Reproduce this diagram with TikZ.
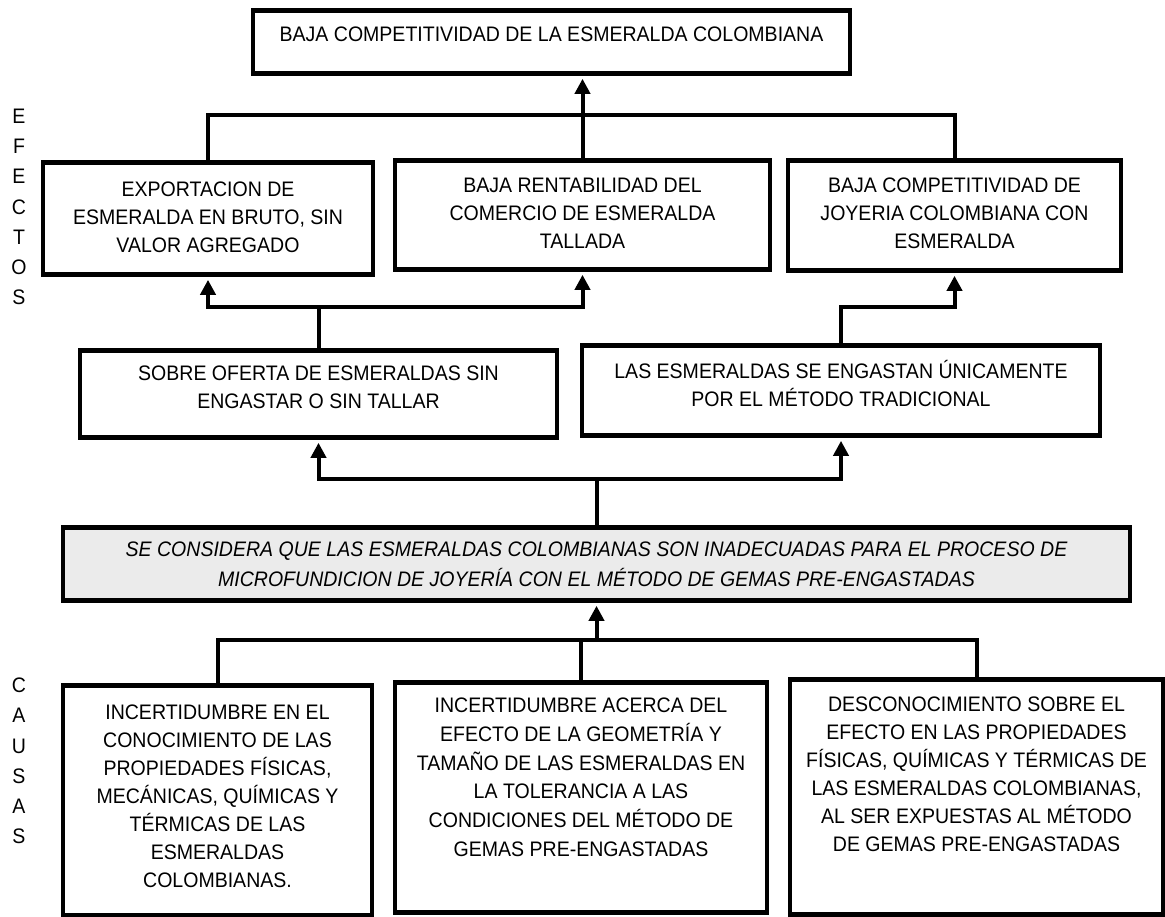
\documentclass[tikz,border=0pt]{standalone}
\usepackage{fontspec}
\setmainfont[FakeStretch=0.93]{Liberation Sans}
\usetikzlibrary{positioning, arrows.meta, calc}

\begin{document}
\begin{tikzpicture}[x=0.5pt, y=-0.5pt,
    box/.style={draw, line width=2.4pt, align=center, inner xsep=0pt, inner ysep=0pt, anchor=north, font=\fontsize{10.5}{14}\selectfont},
    conn/.style={line width=2pt},
    arr/.style={line width=2pt, -{Triangle[length=7.5pt, width=7.5pt]}, shorten >=1.5pt},
    letras/.style={align=center, inner sep=0pt, font=\fontsize{10.5}{15.1}\selectfont}]
    \useasboundingbox (0,0) rectangle (1165,916);

    % Problema central y efectos
    \node[box, minimum width=298.5pt, text height=15.5pt, text depth=16pt] (top) at (551.5,8) {BAJA COMPETITIVIDAD DE LA ESMERALDA COLOMBIANA};
    \node[box, minimum width=165pt, text height=45pt, text depth=11pt] (e1) at (208,160) {EXPORTACION DE\\ESMERALDA EN BRUTO, SIN\\VALOR AGREGADO};
    \node[box, minimum width=187.5pt, text height=44pt, text depth=10.5pt] (e2) at (582.5,158) {BAJA RENTABILIDAD DEL\\COMERCIO DE ESMERALDA\\TALLADA};
    \node[box, minimum width=166.5pt, text height=44pt, text depth=11pt] (e3) at (954.5,158) {BAJA COMPETITIVIDAD DE\\JOYERIA COLOMBIANA CON\\ESMERALDA};
    \node[box, minimum width=238.5pt, text height=29pt, text depth=14.5pt] (s1) at (318.5,348) {SOBRE OFERTA DE ESMERALDAS SIN\\ENGASTAR O SIN TALLAR};
    \node[box, minimum width=259pt, text height=30.5pt, text depth=14.5pt] (s2) at (841,343) {LAS ESMERALDAS SE ENGASTAN ÚNICAMENTE\\POR EL MÉTODO TRADICIONAL};
    \node[box, fill=black!8, minimum width=533.5pt, text height=29.5pt, text depth=7pt, font=\fontsize{10.5}{15}\selectfont\itshape] (mid) at (596.5,525) {SE CONSIDERA QUE LAS ESMERALDAS COLOMBIANAS SON INADECUADAS PARA EL PROCESO DE\\MICROFUNDICION DE JOYERÍA CON EL MÉTODO DE GEMAS PRE-ENGASTADAS};

    % Causas
    \node[box, minimum width=154.5pt, text height=101pt, text depth=14pt] (c1) at (217.5,683) {INCERTIDUMBRE EN EL\\CONOCIMIENTO DE LAS\\PROPIEDADES FÍSICAS,\\MECÁNICAS, QUÍMICAS Y\\TÉRMICAS DE LAS\\ESMERALDAS\\COLOMBIANAS.};
    \node[box, minimum width=186pt, text height=87pt, text depth=28pt, font=\fontsize{10.5}{14.4}\selectfont] (c2) at (581,680) {INCERTIDUMBRE ACERCA DEL\\EFECTO DE LA GEOMETRÍA Y\\TAMAÑO DE LAS ESMERALDAS EN\\LA TOLERANCIA A LAS\\CONDICIONES DEL MÉTODO DE\\GEMAS PRE-ENGASTADAS};
    \node[box, minimum width=186.5pt, text height=86pt, text depth=31.5pt] (c3) at (976.5,677) {DESCONOCIMIENTO SOBRE EL\\EFECTO EN LAS PROPIEDADES\\FÍSICAS, QUÍMICAS Y TÉRMICAS DE\\LAS ESMERALDAS COLOMBIANAS,\\AL SER EXPUESTAS AL MÉTODO\\DE GEMAS PRE-ENGASTADAS};

    % Rotulos laterales
    \node[letras] (efectos) at (19,207) {E\\F\\E\\C\\T\\O\\S};
    \node[letras] (causas) at (19,761) {C\\A\\U\\S\\A\\S};

    % Flechas
    \draw[conn] (e1.north) -- ++(0,-45) -| (e3.north);
    \draw[arr] (e2.north) -- (e2.north |- top.south);
    \draw[conn] (s1.north) -- ++(0,-41) coordinate (s1j);
    \draw[arr] (s1j) -| (e1.south);
    \draw[arr] (s1j) -| (e2.south);
    \draw[arr] (s2.north) -- ++(0,-36) -| (e3.south);
    \draw[conn] (mid.north) -- ++(0,-46) coordinate (mj);
    \draw[arr] (mj) -| (s1.south);
    \draw[arr] (mj) -| (s2.south);
    \draw[conn] (c1.north) -- ++(0,-43) coordinate (cj) -| (c3.north);
    \draw[conn] (c2.north) -- (c2.north |- cj);
    \draw[arr] (mid.south |- cj) -- (mid.south);
\end{tikzpicture}
\end{document}
